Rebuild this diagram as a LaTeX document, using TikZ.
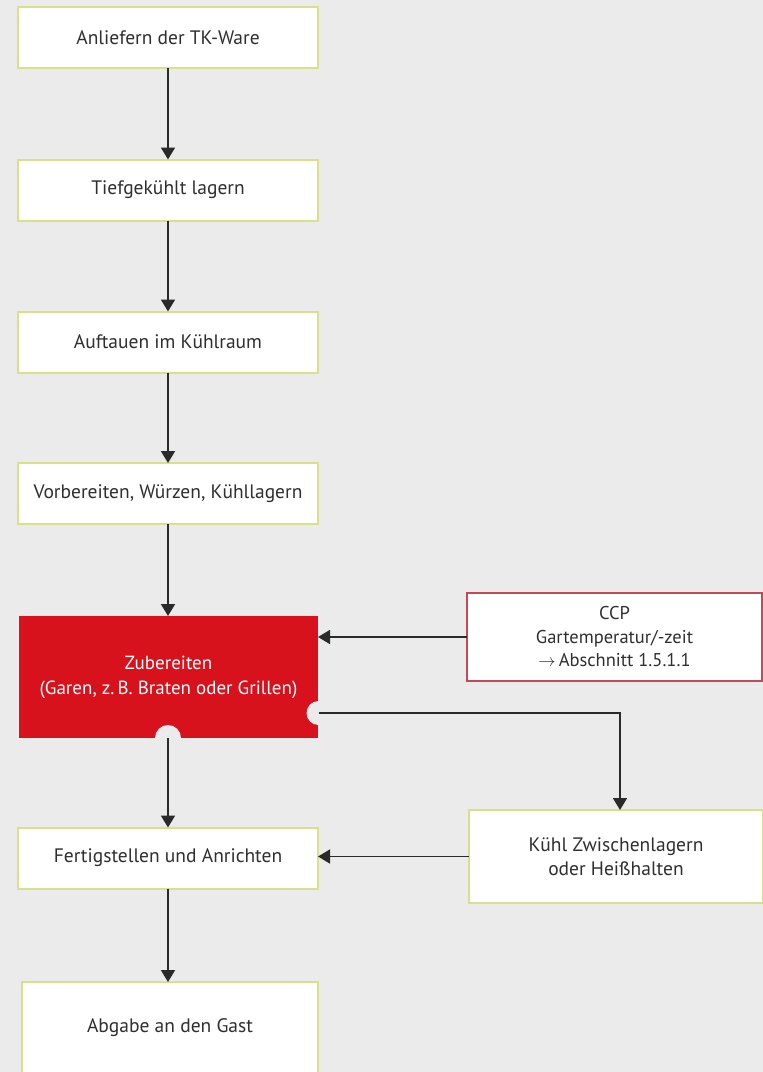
\documentclass[tikz,border=0pt]{standalone}
\usepackage{fontspec}
\setmainfont{PT Sans}
\usetikzlibrary{arrows.meta,calc}
\definecolor{bgc}{HTML}{EBEBEB}
\definecolor{limeb}{HTML}{D8E08A}
\definecolor{ccpb}{HTML}{C24A55}
\definecolor{redf}{HTML}{D7121C}
\definecolor{txt}{HTML}{2F2F2F}
\definecolor{arr}{HTML}{2A2A2A}
\tikzset{
  stepbox/.style={draw=limeb, line width=2pt, fill=white, minimum width=300pt,
    minimum height=61pt, inner sep=0pt, outer sep=0pt, text=txt, align=center,
    font=\fontsize{19.5}{24}\selectfont},
  redbox/.style={fill=redf, minimum width=299pt, minimum height=122pt, inner sep=0pt,
    outer sep=0pt, text=white, align=center, font=\fontsize{19}{25}\selectfont},
  ccpbox/.style={draw=ccpb, line width=1.5pt, fill=white, minimum width=295pt,
    minimum height=88pt, inner sep=0pt, outer sep=0pt, text=txt, align=center,
    font=\fontsize{18.5}{23.5}\selectfont},
  flow/.style={draw=arr, line width=1.7pt, -{Triangle[width=14pt,length=12pt]}}
}
\begin{document}
\begin{tikzpicture}[x=1pt,y=-1pt]
\fill[bgc] (0,0) rectangle (763,1072);
\useasboundingbox (0,0) rectangle (763,1072);

\node[stepbox] (n1) at (168,37.5) {Anliefern der TK-Ware};
\node[stepbox] (n2) at (168,190) {Tiefgekühlt lagern};
\node[stepbox] (n3) at (168,342) {Auftauen im Kühlraum};
\node[stepbox] (n4) at (168,493.5) {Vorbereiten, Würzen, Kühllagern};
\node[redbox] (zub) at (168.5,677) {Zubereiten\\(Garen, z.\,B. Braten oder Grillen)};
\node[ccpbox] (ccp) at (614.5,637) {CCP\\Gartemperatur/-zeit\\$\rightarrow$\,Abschnitt 1.5.1.1};
\node[stepbox, minimum width=294pt, minimum height=93pt] (kuehl) at (616,856.5) {Kühl Zwischenlagern\\oder Heißhalten};
\node[stepbox] (fert) at (168,858) {Fertigstellen und Anrichten};
\node[stepbox, minimum width=296pt, minimum height=92pt] (gast) at (170,1028) {Abgabe an den Gast};

% notches in the red box
\coordinate (notchB) at (168,738);
\coordinate (notchR) at (318.5,713);
\fill[bgc] (notchB) circle (13);
\fill[bgc] (notchR) circle (12);

\draw[flow] (n1.south) -- (n2.north);
\draw[flow] (n2.south) -- (n3.north);
\draw[flow] (n3.south) -- (n4.north);
\draw[flow] (n4.south) -- (zub.north -| n4.south);
\draw[flow] (notchB) -- (fert.north);
\draw[flow] (fert.south) -- (gast.north -| fert.south);
\draw[flow] (ccp.west) -- (ccp.west -| zub.east);
\draw[flow] (notchR) -| ($(kuehl.north)+(4,0)$);
\draw[flow] (kuehl.west) -- (kuehl.west -| fert.east);
\end{tikzpicture}
\end{document}
